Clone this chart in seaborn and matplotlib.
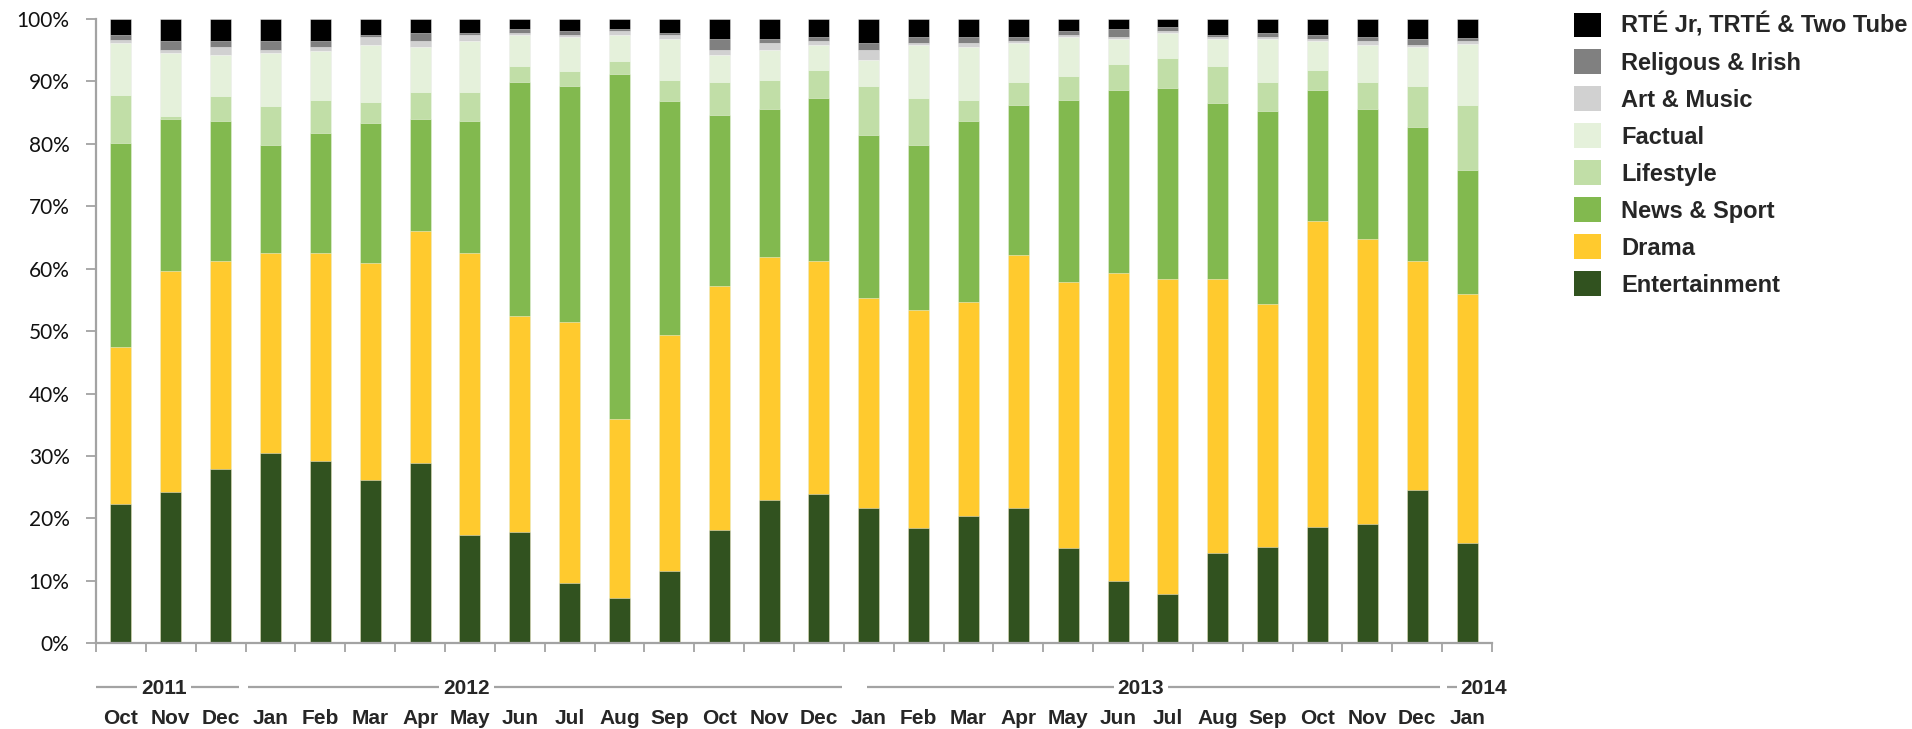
import numpy as np
import pandas as pd
import seaborn as sns
import matplotlib.pyplot as plt
import matplotlib.transforms as mtransforms
from matplotlib.patches import Patch

# months Oct 2011 .. Jan 2014
months = ["Oct", "Nov", "Dec",
          "Jan", "Feb", "Mar", "Apr", "May", "Jun", "Jul", "Aug", "Sep", "Oct", "Nov", "Dec",
          "Jan", "Feb", "Mar", "Apr", "May", "Jun", "Jul", "Aug", "Sep", "Oct", "Nov", "Dec",
          "Jan"]
years = ["2011", "2012", "2013", "2014"]

genres = ["Entertainment", "Drama", "News & Sport", "Lifestyle", "Factual",
          "Art & Music", "Religous & Irish", "RTÉ Jr, TRTÉ & Two Tube"]
colors = ["#31521f", "#ffca2e", "#82b94f", "#c1dea7", "#e5f1db",
          "#d1d1d1", "#808080", "#000000"]

# share of hours (%) per genre
entertainment = [22.3, 24.3, 27.9, 30.5, 29.2, 26.2, 28.9, 17.4, 17.8, 9.6, 7.3, 11.6, 18.1, 23.0,
                 23.9, 21.7, 18.4, 20.4, 21.7, 15.2, 9.9, 7.9, 14.5, 15.5, 18.7, 19.1, 24.6, 16.1]
drama = [25.2, 35.3, 33.3, 32.0, 33.3, 34.7, 37.2, 45.1, 34.6, 41.8, 28.7, 37.8, 39.2, 38.9,
         37.3, 33.6, 35.0, 34.3, 40.5, 42.7, 49.4, 50.4, 43.8, 38.8, 49.0, 45.7, 36.6, 39.9]
news_sport = [32.6, 24.4, 22.5, 17.3, 19.2, 22.4, 17.9, 21.2, 37.5, 37.9, 55.2, 37.5, 27.3, 23.7,
              26.1, 26.1, 26.4, 29.0, 24.1, 29.1, 29.3, 30.6, 28.3, 31.0, 20.9, 20.8, 21.5, 19.8]
lifestyle = [7.8, 0.4, 3.9, 6.2, 5.3, 3.4, 4.3, 4.6, 2.6, 2.3, 2.0, 3.3, 5.3, 4.6,
             4.6, 7.9, 7.5, 3.3, 3.6, 3.9, 4.2, 4.9, 5.9, 4.6, 3.3, 4.3, 6.6, 10.4]
factual = [8.2, 10.1, 6.6, 8.5, 7.8, 9.1, 7.2, 8.2, 4.9, 5.5, 4.2, 6.6, 4.3, 4.9,
           3.9, 4.2, 8.5, 8.5, 6.2, 6.2, 4.0, 4.0, 4.3, 6.9, 4.6, 5.9, 6.2, 9.8]
art_music = [0.6, 0.6, 1.3, 0.6, 0.7, 1.3, 1.0, 0.9, 0.3, 0.3, 0.7, 0.6, 0.9, 1.1,
             0.7, 1.6, 0.4, 0.7, 0.4, 0.3, 0.3, 0.3, 0.3, 0.3, 0.3, 0.7, 0.3, 0.5]
religious_irish = [0.7, 1.4, 1.0, 1.4, 1.0, 0.3, 1.3, 0.4, 0.7, 0.7, 0.3, 0.4, 1.7, 0.6,
                   0.6, 1.1, 0.9, 0.9, 0.6, 0.7, 1.3, 0.6, 0.3, 0.7, 0.6, 0.6, 1.0, 0.5]
childrens = [2.6, 3.5, 3.5, 3.5, 3.5, 2.6, 2.2, 2.2, 1.6, 1.9, 1.6, 2.2, 3.2, 3.2,
             2.9, 3.8, 2.9, 2.9, 2.9, 1.9, 1.6, 1.3, 2.6, 2.2, 2.6, 2.9, 3.2, 3.0]

sns.set_theme(style="white")
plt.rcParams["font.family"] = ["Lato", "DejaVu Sans"]
bold_narrow = ["Liberation Sans Narrow", "Liberation Sans", "DejaVu Sans"]
bold_font = ["Liberation Sans", "DejaVu Sans"]
grey = "#a3a3a3"

keys = [f"{m} {i}" for i, m in enumerate(months)]
shares = np.array([entertainment, drama, news_sport, lifestyle, factual,
                   art_music, religious_irish, childrens])
tops = shares.cumsum(axis=0)

fig = plt.figure(figsize=(19.12, 7.29), dpi=100)
ax = fig.add_axes([96 / 1912, 1 - 643.3 / 729, 1396 / 1912, 624.3 / 729])

# stacked bars: draw cumulative heights from the top layer down
for i in range(len(genres) - 1, -1, -1):
    sns.barplot(x=keys, y=tops[i], order=keys, color=colors[i], saturation=1,
                width=0.42, errorbar=None, edgecolor=(1, 1, 1, 0.5), linewidth=0.6, ax=ax)

ax.set_ylim(0, 100)
ax.set_xlim(-0.5, len(keys) - 0.5)
ax.set_yticks(range(0, 101, 10))
ax.set_yticklabels([f"{v}%" for v in range(0, 101, 10)], fontsize=15, color="#111111")
ax.set_xticks(range(len(keys)))
ax.set_xticklabels(months, fontsize=15, fontweight="bold", family=bold_narrow)
ax.set_xticks(np.arange(-0.5, len(keys), 1), minor=True)
ax.set_xlabel("")
ax.set_ylabel("")

ax.tick_params(axis="x", which="major", length=0, pad=47)
ax.tick_params(axis="x", which="minor", length=6.5, width=1.3, color=grey, direction="out", bottom=True)
ax.tick_params(axis="y", length=7, width=1.3, color=grey, direction="out", left=True, pad=12)
sns.despine(ax=ax)
for s in ["left", "bottom"]:
    ax.spines[s].set_color(grey)
    ax.spines[s].set_linewidth(1.6)

# year row under the months: a grey rule per year with the label sitting on it
trans = mtransforms.blended_transform_factory(ax.transData, ax.transAxes)
year_label_x = [0.87, 6.94, 20.46, 27.34]
year_line_from = [-0.5, 2.55, 14.96, 26.6]
year_line_to = [2.37, 14.46, 26.45, 27.5]
yy = -0.0695
for year, xt, x0, x1 in zip(years, year_label_x, year_line_from, year_line_to):
    ax.plot([x0, x1], [yy, yy], transform=trans, color=grey, lw=1.6,
            clip_on=False, solid_capstyle="butt")
    ax.text(xt, yy, year, transform=trans, ha="center", va="center_baseline", fontsize=15,
            fontweight="bold", family=bold_narrow,
            bbox=dict(facecolor="white", edgecolor="none", pad=3))

handles = [Patch(facecolor=c, edgecolor="none") for c in colors[::-1]]
fig.legend(handles, genres[::-1], loc="upper left", bbox_to_anchor=(1574 / 1912, 1 - 12.5 / 729),
           frameon=False, borderpad=0, borderaxespad=0, handlelength=1.15, handleheight=1.2,
           handletextpad=0.85, labelspacing=0.505,
           prop=dict(family=bold_font, weight="bold", size=17))

fig.savefig("out.png", dpi=100)
